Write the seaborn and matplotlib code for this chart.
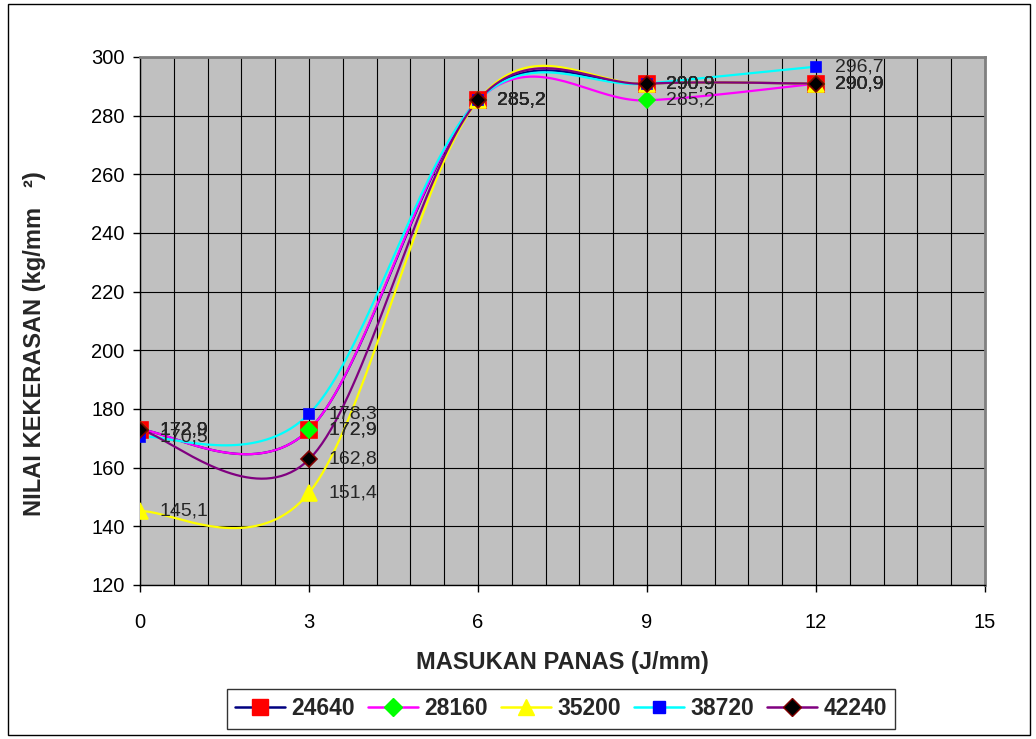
import numpy as np
import pandas as pd
import seaborn as sns
import matplotlib.pyplot as plt
from matplotlib.lines import Line2D
from matplotlib.patches import Rectangle
from matplotlib.ticker import MultipleLocator

# Data
heat_input = [0, 3, 6, 9, 12]
series_names = ["24640", "28160", "35200", "38720", "42240"]
hardness_24640 = [172.9, 172.9, 285.2, 290.9, 290.9]
hardness_28160 = [172.9, 172.9, 285.2, 285.2, 290.9]
hardness_35200 = [145.1, 151.4, 285.2, 290.9, 290.9]
hardness_38720 = [170.5, 178.3, 285.2, 290.9, 296.7]
hardness_42240 = [172.9, 162.8, 285.2, 290.9, 290.9]
all_values = [hardness_24640, hardness_28160, hardness_35200, hardness_38720, hardness_42240]

# Styles
line_colors = ["#000080", "#FF00FF", "#FFFF00", "#00FFFF", "#800080"]
marker_shapes = ["s", "D", "^", "s", "D"]
marker_sizes = [11.5, 8, 11, 7, 8]
marker_faces = ["#FF0000", "#00FF00", "#FFFF00", "#0000FF", "#000000"]
marker_edges = ["#FF0000", "#00FF00", "#FFFF00", "#0000FF", "#800000"]


def smooth_curve(xs, ys, steps=40):
    """Excel-like smoothed line (Catmull-Rom Bezier through the points)."""
    xs = np.asarray(xs, float)
    ys = np.asarray(ys, float)
    n = len(xs)
    out_x, out_y = [], []
    for i in range(n - 1):
        p0 = np.array([xs[max(i - 1, 0)], ys[max(i - 1, 0)]])
        p1 = np.array([xs[i], ys[i]])
        p2 = np.array([xs[i + 1], ys[i + 1]])
        p3 = np.array([xs[min(i + 2, n - 1)], ys[min(i + 2, n - 1)]])
        c1 = p1 + (p2 - p0) / 6.0
        c2 = p2 - (p3 - p1) / 6.0
        t = np.linspace(0, 1, steps)[:, None]
        pts = ((1 - t) ** 3) * p1 + 3 * ((1 - t) ** 2) * t * c1 + 3 * (1 - t) * t ** 2 * c2 + t ** 3 * p2
        if i > 0:
            pts = pts[1:]
        out_x.extend(pts[:, 0])
        out_y.extend(pts[:, 1])
    return out_x, out_y


sns.set_style("white")
plt.rcParams["font.family"] = ["Liberation Sans", "DejaVu Sans"]

fig = plt.figure(figsize=(10.36, 7.39), dpi=100)
ax = fig.add_axes([0.1351, 0.2084, 0.8157, 0.7145])
ax.set_facecolor("#C0C0C0")

# smoothed lines
frames = []
for name, vals in zip(series_names, all_values):
    sx, sy = smooth_curve(heat_input, vals)
    frames.append(pd.DataFrame({"x": sx, "y": sy, "series": name}))
curve_df = pd.concat(frames, ignore_index=True)
sns.lineplot(data=curve_df, x="x", y="y", hue="series", palette=line_colors,
             sort=False, estimator=None, linewidth=1.6, legend=False, ax=ax, zorder=3)

# markers and data labels
for i, (name, vals) in enumerate(zip(series_names, all_values)):
    ax.plot(heat_input, vals, linestyle="none", marker=marker_shapes[i], markersize=marker_sizes[i],
            markerfacecolor=marker_faces[i], markeredgecolor=marker_edges[i], markeredgewidth=1.2,
            zorder=4 + i)
    for xv, yv in zip(heat_input, vals):
        ax.annotate(f"{yv:.1f}".replace(".", ","), (xv, yv), xytext=(14, 0),
                    textcoords="offset points", va="center", ha="left", fontsize=14, zorder=10)

ax.set_xlim(0, 15)
ax.set_ylim(120, 300)
ax.xaxis.set_major_locator(MultipleLocator(3))
ax.xaxis.set_minor_locator(MultipleLocator(0.6))
ax.yaxis.set_major_locator(MultipleLocator(20))
ax.grid(which="minor", axis="x", color="black", linewidth=0.8)
ax.grid(which="major", axis="y", color="black", linewidth=0.8)
ax.grid(which="major", axis="x", color="black", linewidth=0.8)
ax.set_axisbelow(True)
ax.tick_params(axis="both", which="major", direction="out", length=5, width=1, colors="black",
               labelsize=14.5, pad=6, bottom=True, left=True)
ax.tick_params(axis="x", which="minor", length=0)
ax.tick_params(axis="x", pad=15)

for side in ["top", "right"]:
    ax.spines[side].set_color("#808080")
    ax.spines[side].set_linewidth(2)
for side in ["left", "bottom"]:
    ax.spines[side].set_color("black")
    ax.spines[side].set_linewidth(1)

ax.set_xlabel("MASUKAN PANAS (J/mm)", fontsize=17, fontweight="bold", labelpad=14)
ax.set_ylabel("NILAI KEKERASAN (kg/mm   \u00b2)", fontsize=17, fontweight="bold")
ax.yaxis.set_label_coords(-0.111, 0.458)

# legend
legend_marker_sizes = [12, 9, 12, 8, 9]
handles = []
for i, name in enumerate(series_names):
    handles.append(Line2D([0], [0], color=line_colors[i], linewidth=1.8, marker=marker_shapes[i],
                          markersize=legend_marker_sizes[i], markerfacecolor=marker_faces[i],
                          markeredgecolor=marker_edges[i], label=name))
leg = fig.legend(handles=handles, loc="center", bbox_to_anchor=(0.5415, 0.0406), ncol=5,
                 frameon=True, fancybox=False, edgecolor="black", handlelength=2.2,
                 columnspacing=0.55, handletextpad=0.28, borderpad=0.35, borderaxespad=0,
                 prop={"weight": "bold", "size": 16.5})
leg.get_frame().set_linewidth(1)

# outer chart border
fig.patches.append(Rectangle((8 / 1036, 4 / 739), 1022 / 1036, 731 / 739, transform=fig.transFigure,
                             fill=False, edgecolor="black", linewidth=1))

fig.savefig("out.png", dpi=100)
